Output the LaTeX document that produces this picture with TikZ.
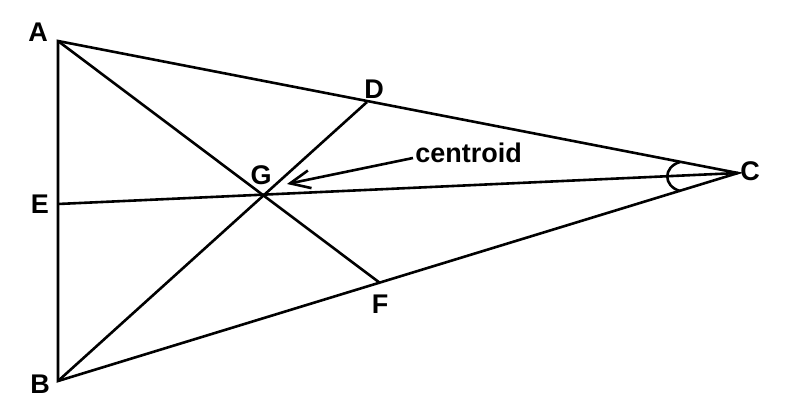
\documentclass[tikz,border=0pt]{standalone}
\usepackage{fontspec}
\setmainfont{Liberation Sans}
\usetikzlibrary{arrows.meta}
\begin{document}
\begin{tikzpicture}[x=1pt,y=-1pt,line width=2.6pt,
  lbl/.style={font=\fontsize{27}{31}\selectfont\bfseries,inner sep=0pt}]
\useasboundingbox (0,0) rectangle (786,410);
\coordinate (A) at (58,41);
\coordinate (B) at (58,381);
\coordinate (C) at (738,173);
\coordinate (D) at (367,102);
\coordinate (E) at (58,204);
\coordinate (F) at (380,283);
\coordinate (G) at (intersection of A--F and B--D);
\draw (A) -- (B) -- (C) -- cycle;
\draw (A) -- (F);
\draw (B) -- (D);
\draw (E) -- (C);
\node[lbl] (labA) at (38,32) {A};
\node[lbl] (labB) at (40,384) {B};
\node[lbl] (labC) at (750,171) {C};
\node[lbl] (labD) at (374,89) {D};
\node[lbl] (labE) at (40,204) {E};
\node[lbl] (labF) at (380,304) {F};
\node[lbl] (labG) at (261,175) {G};
\node[lbl,anchor=west] (cen) at (414,153) {centroid};
\coordinate (tail) at (413,158);
\coordinate (tip) at (287,184);
\draw[-{Straight Barb[length=20pt,width=18pt]}] (tail) -- (tip);
% angle at C
\draw (680,162) .. controls (663,167) and (663,186) .. (680,191);
\end{tikzpicture}
\end{document}
